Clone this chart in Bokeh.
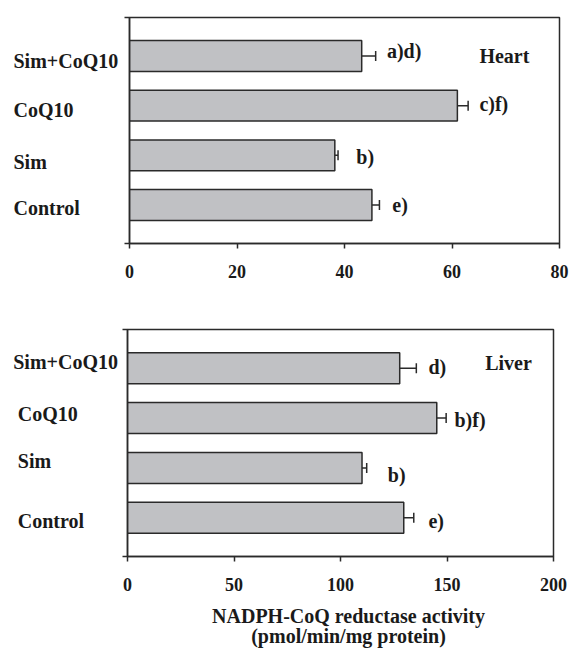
from bokeh.plotting import figure
from bokeh.models import (ColumnDataSource, Range1d, FixedTicker, Whisker, TeeHead)
from bokeh.layouts import column, row
from bokeh.core.properties import value
from bokeh.embed import file_html
from bokeh.resources import INLINE

# ---------------- data ----------------
categories = ["Control", "Sim", "CoQ10", "Sim+CoQ10"]

heart_values = [45.1, 38.2, 61.0, 43.2]
heart_errors = [1.4, 0.6, 2.0, 2.6]
heart_marks = ["e)", "b)", "c)f)", "a)d)"]

liver_values = [129.7, 110.1, 145.2, 127.8]
liver_errors = [4.7, 2.2, 4.4, 7.8]
liver_marks = ["e)", "b)", "b)f)", "d)"]

heart_ticks = [0, 20, 40, 60, 80]
liver_ticks = [0, 50, 100, 150, 200]

x_title_lines = ["NADPH-CoQ reductase activity", "(pmol/min/mg protein)"]

# ---------------- style ----------------
FONT = value("Liberation Serif")
TXT = "#1a1a1a"
LINE = "#2a2a2a"
BAR = "#c0c1c4"
Y0, Y1 = -0.775, 3.775
FRAME_H = 226.5
SPACING = FRAME_H / (Y1 - Y0)


def bare(width, height, xr, yr, mb_top=0, mb_bottom=0):
    p = figure(width=width, height=height, output_backend="svg", toolbar_location=None,
               x_range=xr, y_range=yr, x_axis_location=None, y_axis_location=None,
               min_border_left=0, min_border_right=0,
               min_border_top=mb_top, min_border_bottom=mb_bottom)
    p.outline_line_color = None
    p.grid.visible = False
    p.background_fill_color = "white"
    p.border_fill_color = "white"
    return p


def text_kw(size="20px", align="left"):
    return dict(text_font=FONT, text_font_style="bold", text_font_size=size,
                text_color=TXT, text_align=align, text_baseline="middle")


def make_section(values, errors, marks, ticks, xmax, name, height, label_w,
                 chart_w, mb_right, mb_top, mb_bottom,
                 mark_x, mark_dy, name_x, name_dy, cat_x, cat_dy):
    # category label column (left-aligned names)
    lab = bare(label_w, height, Range1d(0, label_w), Range1d(Y0, Y1), mb_top, mb_bottom)
    lab.text(x=cat_x, y=[i - d / SPACING for i, d in enumerate(cat_dy)],
             text=categories, **text_kw())

    p = figure(width=chart_w, height=height, output_backend="svg", toolbar_location=None,
               x_range=Range1d(0, xmax), y_range=Range1d(Y0, Y1),
               min_border_left=8, min_border_right=mb_right,
               min_border_top=mb_top, min_border_bottom=mb_bottom)
    p.background_fill_color = "white"
    p.border_fill_color = "white"
    p.outline_line_color = LINE
    p.outline_line_width = 1.5
    p.grid.visible = False

    ys = list(range(len(categories)))
    src = ColumnDataSource(dict(y=ys, v=values, hi=[v + e for v, e in zip(values, errors)]))
    p.hbar(y="y", left=0, right="v", height=0.62, source=src,
           fill_color=BAR, line_color=LINE, line_width=1.5)
    p.add_layout(Whisker(base="y", lower="v", upper="hi", dimension="width", source=src,
                         line_color=LINE, line_width=1.5, lower_head=None,
                         upper_head=TeeHead(size=10, line_color=LINE, line_width=1.5)))

    xa = p.xaxis[0]
    xa.ticker = FixedTicker(ticks=ticks)
    xa.minor_tick_line_color = None
    xa.major_tick_in = 0
    xa.major_tick_out = 5
    xa.axis_line_color = LINE
    xa.axis_line_width = 1.5
    xa.major_tick_line_color = LINE
    xa.major_tick_line_width = 1.5
    xa.major_label_text_font = "Liberation Serif"
    xa.major_label_text_font_style = "bold"
    xa.major_label_text_font_size = "18px"
    xa.major_label_text_color = TXT
    xa.major_label_standoff = 16

    ya = p.yaxis[0]
    ya.ticker = FixedTicker(ticks=[Y0, Y1])
    ya.minor_tick_line_color = None
    ya.major_tick_in = 0
    ya.major_tick_out = 5
    ya.axis_line_color = LINE
    ya.axis_line_width = 1.5
    ya.major_tick_line_color = LINE
    ya.major_tick_line_width = 1.5
    ya.major_label_standoff = 0
    ya.major_label_overrides = {Y0: "", Y1: ""}

    p.text(x=mark_x, y=[i - d / SPACING for i, d in enumerate(mark_dy)],
           text=marks, **text_kw())
    p.text(x=[name_x], y=[3 - name_dy / SPACING], text=[name], **text_kw())
    return row(lab, p)


top = make_section(heart_values, heart_errors, heart_marks, heart_ticks, 80, "Heart",
                   height=300, label_w=121, chart_w=454, mb_right=16,
                   mb_top=17, mb_bottom=57,
                   mark_x=[48.9, 42.2, 65.1, 47.9], mark_dy=[0, 2, -2, -5],
                   name_x=65.1, name_dy=0,
                   cat_x=[13, 13, 13, 13], cat_dy=[3.5, 7, 4.5, 5])

bottom = make_section(liver_values, liver_errors, liver_marks, liver_ticks, 200, "Liver",
                      height=298, label_w=119, chart_w=456, mb_right=22,
                      mb_top=29, mb_bottom=42,
                      mark_x=[141.3, 122.2, 153.5, 141.3], mark_dy=[3, 7, 1.5, -1],
                      name_x=167.9, name_dy=-5,
                      cat_x=[17.3, 17.3, 17.3, 12.7], cat_dy=[3, -7, -4.5, -6])

title = bare(575, 52, Range1d(0, 575), Range1d(52, 0))
title.text(x=[348, 348], y=[17, 37], text=x_title_lines, **text_kw(align="center"))

layout = column(top, bottom, title)
open("out.html", "w").write(file_html(layout, INLINE))
